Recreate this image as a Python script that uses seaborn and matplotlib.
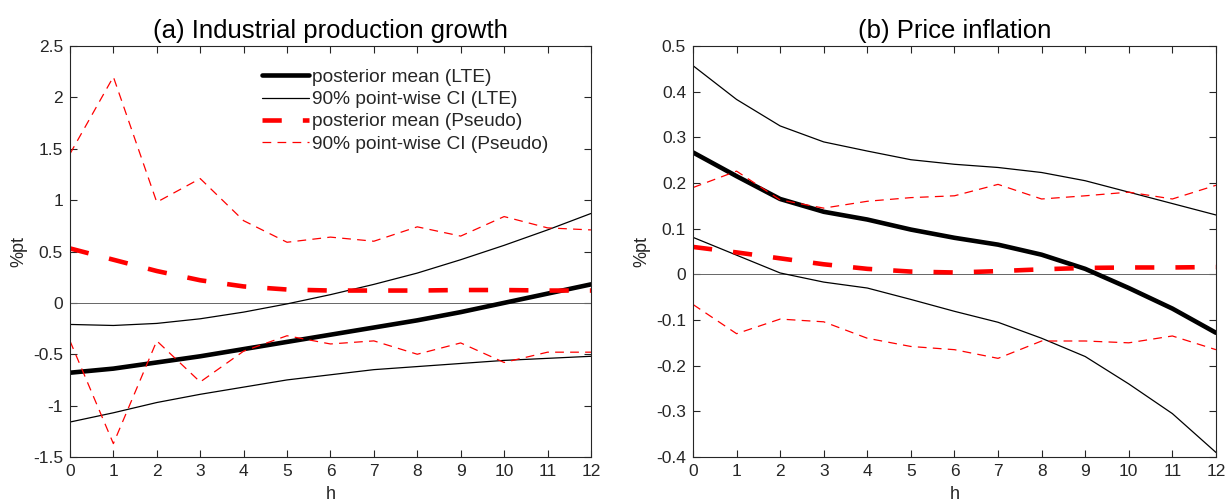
import numpy as np
import pandas as pd
import matplotlib
matplotlib.use("Agg")
import matplotlib.pyplot as plt
import seaborn as sns
from matplotlib.ticker import FuncFormatter

# horizon
h = list(range(13))

# (a) industrial production growth
ip_mean_lte = [-0.68, -0.64, -0.58, -0.52, -0.45, -0.38, -0.31, -0.24, -0.17, -0.09, 0.0, 0.09, 0.18]
ip_up_lte = [-0.21, -0.22, -0.20, -0.155, -0.09, -0.01, 0.08, 0.18, 0.29, 0.42, 0.56, 0.71, 0.87]
ip_lo_lte = [-1.16, -1.07, -0.97, -0.89, -0.82, -0.75, -0.70, -0.65, -0.62, -0.59, -0.56, -0.54, -0.52]
ip_mean_ps = [0.53, 0.42, 0.31, 0.22, 0.16, 0.13, 0.12, 0.12, 0.12, 0.125, 0.125, 0.12, 0.12]
ip_up_ps = [1.45, 2.2, 0.98, 1.21, 0.80, 0.59, 0.64, 0.60, 0.74, 0.65, 0.84, 0.73, 0.71]
ip_lo_ps = [-0.37, -1.37, -0.37, -0.77, -0.47, -0.32, -0.40, -0.37, -0.50, -0.39, -0.58, -0.48, -0.48]

# (b) price inflation
pi_mean_lte = [0.267, 0.215, 0.165, 0.137, 0.12, 0.098, 0.08, 0.065, 0.043, 0.012, -0.03, -0.075, -0.128]
pi_up_lte = [0.457, 0.383, 0.325, 0.29, 0.27, 0.251, 0.241, 0.234, 0.223, 0.205, 0.18, 0.155, 0.13]
pi_lo_lte = [0.081, 0.042, 0.003, -0.017, -0.03, -0.055, -0.081, -0.105, -0.14, -0.18, -0.24, -0.305, -0.39]
pi_mean_ps = [0.06, 0.048, 0.035, 0.022, 0.012, 0.006, 0.004, 0.007, 0.011, 0.014, 0.015, 0.015, 0.016]
pi_up_ps = [0.19, 0.226, 0.163, 0.145, 0.16, 0.168, 0.172, 0.197, 0.165, 0.172, 0.18, 0.165, 0.195]
pi_lo_ps = [-0.066, -0.13, -0.098, -0.104, -0.14, -0.158, -0.165, -0.184, -0.146, -0.146, -0.15, -0.135, -0.165]

labels = ["posterior mean (LTE)", "90% point-wise CI (LTE)",
          "posterior mean (Pseudo)", "90% point-wise CI (Pseudo)"]

sns.set_style("ticks")
plt.rcParams["font.family"] = ["Liberation Sans", "DejaVu Sans"]
plt.rcParams["axes.unicode_minus"] = False

fig = plt.figure(figsize=(12.25, 5.03), dpi=100)
ax_a = fig.add_axes([0.0571, 0.0915, 0.4253, 0.817])
ax_b = fig.add_axes([0.5657, 0.0915, 0.4269, 0.817])

dark = "#262626"
thick_dash = (0, (4.2, 4.6))
thin_dash = (0, (7, 5))


def fmt(v, pos):
    return "%g" % (round(v, 2) + 0.0)


def draw_panel(ax, mean_lte, up_lte, lo_lte, mean_ps, up_ps, lo_ps):
    ax.axhline(0, color="#666666", lw=0.7, zorder=1)
    sns.lineplot(x=h, y=mean_lte, ax=ax, color="black", lw=3.3, label=labels[0])
    sns.lineplot(x=h, y=up_lte, ax=ax, color="black", lw=0.9, label=labels[1])
    sns.lineplot(x=h, y=lo_lte, ax=ax, color="black", lw=0.9)
    sns.lineplot(x=h, y=mean_ps, ax=ax, color="red", lw=3.3, linestyle=thick_dash, label=labels[2])
    sns.lineplot(x=h, y=up_ps, ax=ax, color="red", lw=0.9, linestyle=thin_dash, label=labels[3])
    sns.lineplot(x=h, y=lo_ps, ax=ax, color="red", lw=0.9, linestyle=thin_dash)
    ax.set_xlim(0, 12)
    ax.set_xticks(h)
    ax.set_xlabel("h", fontsize=13, color=dark, labelpad=5)
    ax.set_ylabel("%pt", fontsize=13, color=dark, labelpad=4)
    ax.tick_params(direction="in", length=5, width=0.8, top=True, right=True,
                   labelsize=12.5, colors=dark, pad=5)
    ax.yaxis.set_major_formatter(FuncFormatter(fmt))
    for s in ax.spines.values():
        s.set_visible(True)
        s.set_color(dark)
        s.set_linewidth(0.8)


draw_panel(ax_a, ip_mean_lte, ip_up_lte, ip_lo_lte, ip_mean_ps, ip_up_ps, ip_lo_ps)
ax_a.set_ylim(-1.5, 2.5)
ax_a.set_yticks(np.arange(-1.5, 2.51, 0.5))
ax_a.set_title("(a) Industrial production growth", fontsize=18.5, color="black", pad=6)
ax_a.legend(loc="upper left", bbox_to_anchor=(0.369, 0.945), frameon=False,
            fontsize=13.8, handlelength=2.45, handletextpad=0.15, labelspacing=0.25,
            borderaxespad=0, borderpad=0)

draw_panel(ax_b, pi_mean_lte, pi_up_lte, pi_lo_lte, pi_mean_ps, pi_up_ps, pi_lo_ps)
ax_b.set_ylim(-0.4, 0.5)
ax_b.set_yticks(np.arange(-0.4, 0.51, 0.1))
ax_b.set_title("(b) Price inflation", fontsize=18.5, color="black", pad=6)
ax_b.get_legend().remove()

fig.savefig("out.png", dpi=100)
